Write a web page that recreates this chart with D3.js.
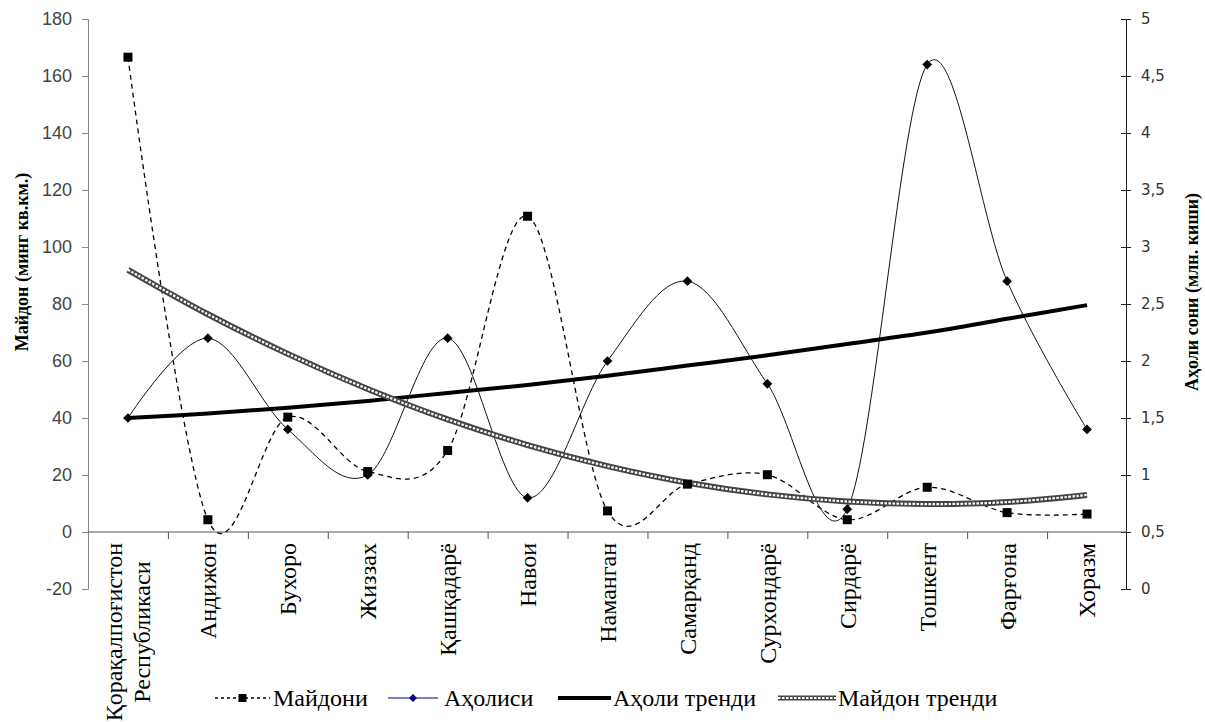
<!DOCTYPE html>
<html lang="uz">
<head>
  <meta charset="utf-8">
  <title>Майдон ва аҳоли</title>
  <script src="https://d3js.org/d3.v7.min.js"></script>
  <style>
    body { margin: 0; background: #fff; }
    .tickL text { font: 18px "Liberation Sans", Arial, sans-serif; fill: #444; }
    .tickR text { font: 15px "DejaVu Sans", Tahoma, sans-serif; fill: #333; }
    .cat { font: 24px "Liberation Serif", "Times New Roman", serif; fill: #000; }
    .title { font: bold 18px "Liberation Serif", "Times New Roman", serif; fill: #000; }
    .legend text { font: 24px "Liberation Serif", "Times New Roman", serif; fill: #000; }
  </style>
</head>
<body>
<svg width="1205" height="722"></svg>
<script>
  // regions
  var categories = [
    ["Қорақалпоғистон", "Республикаси"], ["Андижон"], ["Бухоро"], ["Жиззах"],
    ["Қашқадарё"], ["Навои"], ["Наманган"], ["Самарқанд"], ["Сурхондарё"],
    ["Сирдарё"], ["Тошкент"], ["Фарғона"], ["Хоразм"]
  ];
  // Майдони (минг кв.км.) - left axis
  var areaValues = [166.6, 4.3, 40.3, 21.2, 28.6, 110.8, 7.4, 16.8, 20.1, 4.3, 15.7, 6.8, 6.3];
  // Аҳолиси (млн. киши) - right axis
  var populationValues = [1.5, 2.2, 1.4, 1.0, 2.2, 0.8, 2.0, 2.7, 1.8, 0.7, 4.6, 2.7, 1.4];
  // trend lines at each region
  var populationTrend = [1.50, 1.54, 1.59, 1.65, 1.72, 1.79, 1.87, 1.96, 2.05, 2.15, 2.25, 2.37, 2.49];
  var areaTrend = [92.0, 76.4, 62.5, 50.2, 39.5, 30.5, 23.1, 17.3, 13.2, 10.7, 9.8, 10.5, 13.0];
  // axis tick labels
  var leftTicks = [-20, 0, 20, 40, 60, 80, 100, 120, 140, 160, 180];
  var rightTicks = [0, 0.5, 1, 1.5, 2, 2.5, 3, 3.5, 4, 4.5, 5];
  var legendNames = ["Майдони", "Аҳолиси", "Аҳоли тренди", "Майдон тренди"];

  // plot box (note: "top" is a reserved window global, so use other names)
  var pL = 88, pR = 1127, pT = 19, pB = 589;
  var svg = d3.select('svg');
  var keys = categories.map(function(c) { return c.join(" "); });

  var x = d3.scaleBand().domain(keys).range([pL, pR]);
  var xi = d3.scaleLinear().domain([0, categories.length]).range([pL, pR]);
  var yL = d3.scaleLinear().domain([-20, 180]).range([pB, pT]);
  var yR = d3.scaleLinear().domain([0, 5]).range([pB, pT]);
  var cx = function(i) { return x(keys[i]) + x.bandwidth() / 2; };

  // left axis
  var gL = svg.append('g').attr('class', 'tickL').attr('transform', 'translate(' + pL + ',0)')
    .call(d3.axisLeft(yL).tickValues(leftTicks).tickSize(6).tickPadding(10)
      .tickFormat(function(d) { return String(d); }));
  gL.selectAll('path, line').attr('stroke', '#888');

  // right axis, ticks cross the line
  var gR = svg.append('g').attr('class', 'tickR').attr('transform', 'translate(' + (pR - 1) + ',0)')
    .call(d3.axisRight(yR).tickValues(rightTicks).tickSize(5).tickPadding(10)
      .tickFormat(function(d) { return String(d).replace('.', ','); }));
  gR.select('path').attr('stroke', '#222');
  gR.selectAll('.tick line').attr('x1', -5).attr('stroke', '#222');

  // category axis at zero
  var gX = svg.append('g').attr('transform', 'translate(0,' + yL(0) + ')')
    .call(d3.axisBottom(xi).tickValues(d3.range(1, categories.length)).tickSize(7).tickFormat(''));
  gX.selectAll('path, line').attr('stroke', '#555');
  gX.select('path').attr('d', 'M' + pL + ',0H' + pR);

  // rotated category labels
  categories.forEach(function(lines, i) {
    var g = svg.append('g');
    var t = g.append('text').attr('class', 'cat').attr('text-anchor', 'middle');
    lines.forEach(function(s, k) {
      t.append('tspan').attr('x', 0).attr('y', (k - (lines.length - 1) / 2) * 28).attr('dy', '0.35em').text(s);
    });
    var w = d3.max(t.selectAll('tspan').nodes(), function(n) { return n.getComputedTextLength(); });
    g.attr('transform', 'translate(' + cx(i) + ',' + (543 + w / 2) + ') rotate(-90)');
  });

  // axis titles
  svg.append('text').attr('class', 'title').attr('text-anchor', 'middle')
    .attr('transform', 'translate(22,262) rotate(-90)').attr('dy', '0.35em')
    .text('Майдон (минг кв.км.)');
  svg.append('text').attr('class', 'title').attr('text-anchor', 'middle')
    .attr('transform', 'translate(1192,292) rotate(-90)').attr('dy', '0.35em')
    .text('Аҳоли сони (млн. киши)');

  var smooth = d3.curveCatmullRom.alpha(0);
  var lineL = d3.line().x(function(d, i) { return cx(i); }).y(function(d) { return yL(d); }).curve(smooth);
  var lineR = d3.line().x(function(d, i) { return cx(i); }).y(function(d) { return yR(d); }).curve(smooth);

  // series
  svg.append('path').attr('d', lineL(areaValues)).attr('fill', 'none')
    .attr('stroke', '#000').attr('stroke-width', 1.3).attr('stroke-dasharray', '5,4');
  svg.append('path').attr('d', lineR(populationValues)).attr('fill', 'none')
    .attr('stroke', '#111').attr('stroke-width', 1);

  // trends
  svg.append('path').attr('d', lineR(populationTrend)).attr('fill', 'none')
    .attr('stroke', '#000').attr('stroke-width', 4);
  svg.append('path').attr('d', lineL(areaTrend)).attr('fill', 'none')
    .attr('stroke', '#444').attr('stroke-width', 6);
  svg.append('path').attr('d', lineL(areaTrend)).attr('fill', 'none')
    .attr('stroke', '#fff').attr('stroke-width', 2.2).attr('stroke-dasharray', '2.5,1.5');

  // markers
  svg.selectAll('.sq').data(areaValues).enter().append('rect')
    .attr('x', function(d, i) { return cx(i) - 4.5; }).attr('y', function(d) { return yL(d) - 4.5; })
    .attr('width', 9).attr('height', 9).attr('fill', '#000');
  var diamond = d3.symbol().type(d3.symbolDiamond2).size(60);
  svg.selectAll('.dm').data(populationValues).enter().append('path')
    .attr('d', diamond).attr('fill', '#000')
    .attr('transform', function(d, i) { return 'translate(' + cx(i) + ',' + yR(d) + ')'; });

  // legend
  var ly = 698;
  var lg = svg.append('g').attr('class', 'legend');
  var items = [{x0: 215, x1: 270, tx: 273}, {x0: 388, x1: 438, tx: 444},
               {x0: 558, x1: 611, tx: 613}, {x0: 778, x1: 836, tx: 838}];
  lg.append('line').attr('x1', items[0].x0).attr('x2', items[0].x1).attr('y1', ly).attr('y2', ly)
    .attr('stroke', '#000').attr('stroke-width', 1.3).attr('stroke-dasharray', '3,3');
  lg.append('rect').attr('x', (items[0].x0 + items[0].x1) / 2 - 4).attr('y', ly - 4)
    .attr('width', 8).attr('height', 8).attr('fill', '#000');
  lg.append('line').attr('x1', items[1].x0).attr('x2', items[1].x1).attr('y1', ly).attr('y2', ly)
    .attr('stroke', '#000080').attr('stroke-width', 1.2);
  lg.append('path').attr('d', d3.symbol().type(d3.symbolDiamond2).size(40)).attr('fill', '#000080')
    .attr('transform', 'translate(' + (items[1].x0 + items[1].x1) / 2 + ',' + ly + ')');
  lg.append('line').attr('x1', items[2].x0).attr('x2', items[2].x1).attr('y1', ly).attr('y2', ly)
    .attr('stroke', '#000').attr('stroke-width', 4);
  lg.append('line').attr('x1', items[3].x0).attr('x2', items[3].x1).attr('y1', ly).attr('y2', ly)
    .attr('stroke', '#444').attr('stroke-width', 5);
  lg.append('line').attr('x1', items[3].x0).attr('x2', items[3].x1).attr('y1', ly).attr('y2', ly)
    .attr('stroke', '#fff').attr('stroke-width', 2).attr('stroke-dasharray', '2.5,1.5');
  items.forEach(function(it, i) {
    lg.append('text').attr('x', it.tx).attr('y', ly).attr('dy', '0.33em').text(legendNames[i]);
  });
</script>
</body>
</html>
